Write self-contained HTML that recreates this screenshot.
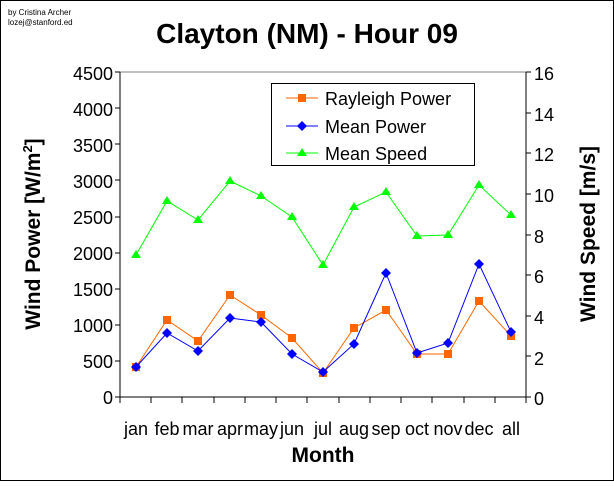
<!DOCTYPE html><html><head><style>body{margin:0;background:#fff}</style></head><body>
<svg width="614" height="481" xmlns="http://www.w3.org/2000/svg" font-family="Liberation Sans, Arial, sans-serif">
<rect x="0.5" y="0.5" width="613" height="480" fill="#fff" stroke="#000"/>
<text x="8" y="15" font-size="8">by Cristina Archer</text>
<text x="8" y="25" font-size="8">lozej@stanford.ed</text>
<text x="307" y="43" font-size="28" font-weight="bold" text-anchor="middle">Clayton (NM) - Hour 09</text>
<line x1="120" y1="72" x2="526" y2="72" stroke="#808080"/>
<line x1="120" y1="72" x2="120" y2="397" stroke="#000"/>
<line x1="526" y1="72" x2="526" y2="397" stroke="#000"/>
<line x1="115" y1="397" x2="531" y2="397" stroke="#000"/>
<g font-size="18" text-anchor="end">
<text x="113" y="80">4500</text><text x="113" y="116">4000</text><text x="113" y="152">3500</text><text x="113" y="188">3000</text><text x="113" y="224">2500</text><text x="113" y="260">2000</text><text x="113" y="296">1500</text><text x="113" y="332">1000</text><text x="113" y="368">500</text><text x="113" y="404">0</text>
</g>
<g font-size="18">
<text x="534" y="80">16</text><text x="534" y="121">14</text><text x="534" y="161">12</text><text x="534" y="202">10</text><text x="534" y="243">8</text><text x="534" y="283">6</text><text x="534" y="324">4</text><text x="534" y="365">2</text><text x="534" y="405">0</text>
</g>
<g stroke="#000">
<line x1="115" y1="72" x2="120" y2="72"/><line x1="115" y1="108" x2="120" y2="108"/><line x1="115" y1="144" x2="120" y2="144"/><line x1="115" y1="180" x2="120" y2="180"/><line x1="115" y1="217" x2="120" y2="217"/><line x1="115" y1="253" x2="120" y2="253"/><line x1="115" y1="289" x2="120" y2="289"/><line x1="115" y1="325" x2="120" y2="325"/><line x1="115" y1="361" x2="120" y2="361"/>
<line x1="526" y1="72" x2="531" y2="72"/><line x1="526" y1="113" x2="531" y2="113"/><line x1="526" y1="153" x2="531" y2="153"/><line x1="526" y1="194" x2="531" y2="194"/><line x1="526" y1="235" x2="531" y2="235"/><line x1="526" y1="275" x2="531" y2="275"/><line x1="526" y1="316" x2="531" y2="316"/><line x1="526" y1="356" x2="531" y2="356"/>
<line x1="151" y1="397" x2="151" y2="403"/><line x1="182" y1="397" x2="182" y2="403"/><line x1="214" y1="397" x2="214" y2="403"/><line x1="245" y1="397" x2="245" y2="403"/><line x1="276" y1="397" x2="276" y2="403"/><line x1="307" y1="397" x2="307" y2="403"/><line x1="339" y1="397" x2="339" y2="403"/><line x1="370" y1="397" x2="370" y2="403"/><line x1="401" y1="397" x2="401" y2="403"/><line x1="432" y1="397" x2="432" y2="403"/><line x1="464" y1="397" x2="464" y2="403"/><line x1="495" y1="397" x2="495" y2="403"/><line x1="120" y1="397" x2="120" y2="403"/><line x1="526" y1="397" x2="526" y2="403"/>
</g>
<g font-size="18" text-anchor="middle">
<text x="136" y="435">jan</text><text x="167" y="435">feb</text><text x="198" y="435">mar</text><text x="230" y="435">apr</text><text x="261" y="435">may</text><text x="292" y="435">jun</text><text x="323" y="435">jul</text><text x="354" y="435">aug</text><text x="386" y="435">sep</text><text x="417" y="435">oct</text><text x="448" y="435">nov</text><text x="479" y="435">dec</text><text x="511" y="435">all</text>
</g>
<text x="323" y="462" font-size="21" font-weight="bold" text-anchor="middle">Month</text>
<text transform="translate(40 234) rotate(-90)" font-size="21" font-weight="bold" text-anchor="middle">Wind Power [W/m<tspan font-size="13" dy="-8">2</tspan><tspan dy="8">]</tspan></text>
<text transform="translate(595 234) rotate(-90)" font-size="21" font-weight="bold" text-anchor="middle">Wind Speed [m/s]</text>
<polyline fill="none" stroke="#00ff00" points="136,255 167,201 198,220 230,181 261,196 292,217 323,265 354,207 386,192 417,236 448,235 479,185 511,215"/>
<g fill="#00ff00"><path d="M136,250l5,8h-10z"/><path d="M167,196l5,8h-10z"/><path d="M198,215l5,8h-10z"/><path d="M230,176l5,8h-10z"/><path d="M261,191l5,8h-10z"/><path d="M292,212l5,8h-10z"/><path d="M323,260l5,8h-10z"/><path d="M354,202l5,8h-10z"/><path d="M386,187l5,8h-10z"/><path d="M417,231l5,8h-10z"/><path d="M448,230l5,8h-10z"/><path d="M479,180l5,8h-10z"/><path d="M511,210l5,8h-10z"/></g>
<polyline fill="none" stroke="#ff6600" points="136,367 167,320 198,341 230,295 261,315 292,338 323,373 354,328 386,310 417,354 448,354 479,301 511,336"/>
<g fill="#ff6600"><rect x="132" y="363" width="8" height="8"/><rect x="163" y="316" width="8" height="8"/><rect x="194" y="337" width="8" height="8"/><rect x="226" y="291" width="8" height="8"/><rect x="257" y="311" width="8" height="8"/><rect x="288" y="334" width="8" height="8"/><rect x="319" y="369" width="8" height="8"/><rect x="350" y="324" width="8" height="8"/><rect x="382" y="306" width="8" height="8"/><rect x="413" y="350" width="8" height="8"/><rect x="444" y="350" width="8" height="8"/><rect x="475" y="297" width="8" height="8"/><rect x="507" y="332" width="8" height="8"/></g>
<polyline fill="none" stroke="#0000ff" points="136,367 167,333 198,351 230,318 261,322 292,354 323,372 354,344 386,273 417,353 448,343 479,264 511,332"/>
<g fill="#0000ff"><path d="M136,362l5,5-5,5-5-5z"/><path d="M167,328l5,5-5,5-5-5z"/><path d="M198,346l5,5-5,5-5-5z"/><path d="M230,313l5,5-5,5-5-5z"/><path d="M261,317l5,5-5,5-5-5z"/><path d="M292,349l5,5-5,5-5-5z"/><path d="M323,367l5,5-5,5-5-5z"/><path d="M354,339l5,5-5,5-5-5z"/><path d="M386,268l5,5-5,5-5-5z"/><path d="M417,348l5,5-5,5-5-5z"/><path d="M448,338l5,5-5,5-5-5z"/><path d="M479,259l5,5-5,5-5-5z"/><path d="M511,327l5,5-5,5-5-5z"/></g>
<rect x="271.5" y="83.5" width="203" height="82" fill="#fff" stroke="#000"/>
<line x1="286" y1="98" x2="318" y2="98" stroke="#ff6600"/><rect x="298" y="94" width="8" height="8" fill="#ff6600"/>
<line x1="286" y1="126" x2="318" y2="126" stroke="#0000ff"/><path d="M302,121l5,5-5,5-5-5z" fill="#0000ff"/>
<line x1="286" y1="153" x2="318" y2="153" stroke="#00ff00"/><path d="M302,148l5,8h-10z" fill="#00ff00"/>
<g font-size="18"><text x="325" y="105">Rayleigh Power</text><text x="325" y="133">Mean Power</text><text x="325" y="160">Mean Speed</text></g>
</svg></body></html>
